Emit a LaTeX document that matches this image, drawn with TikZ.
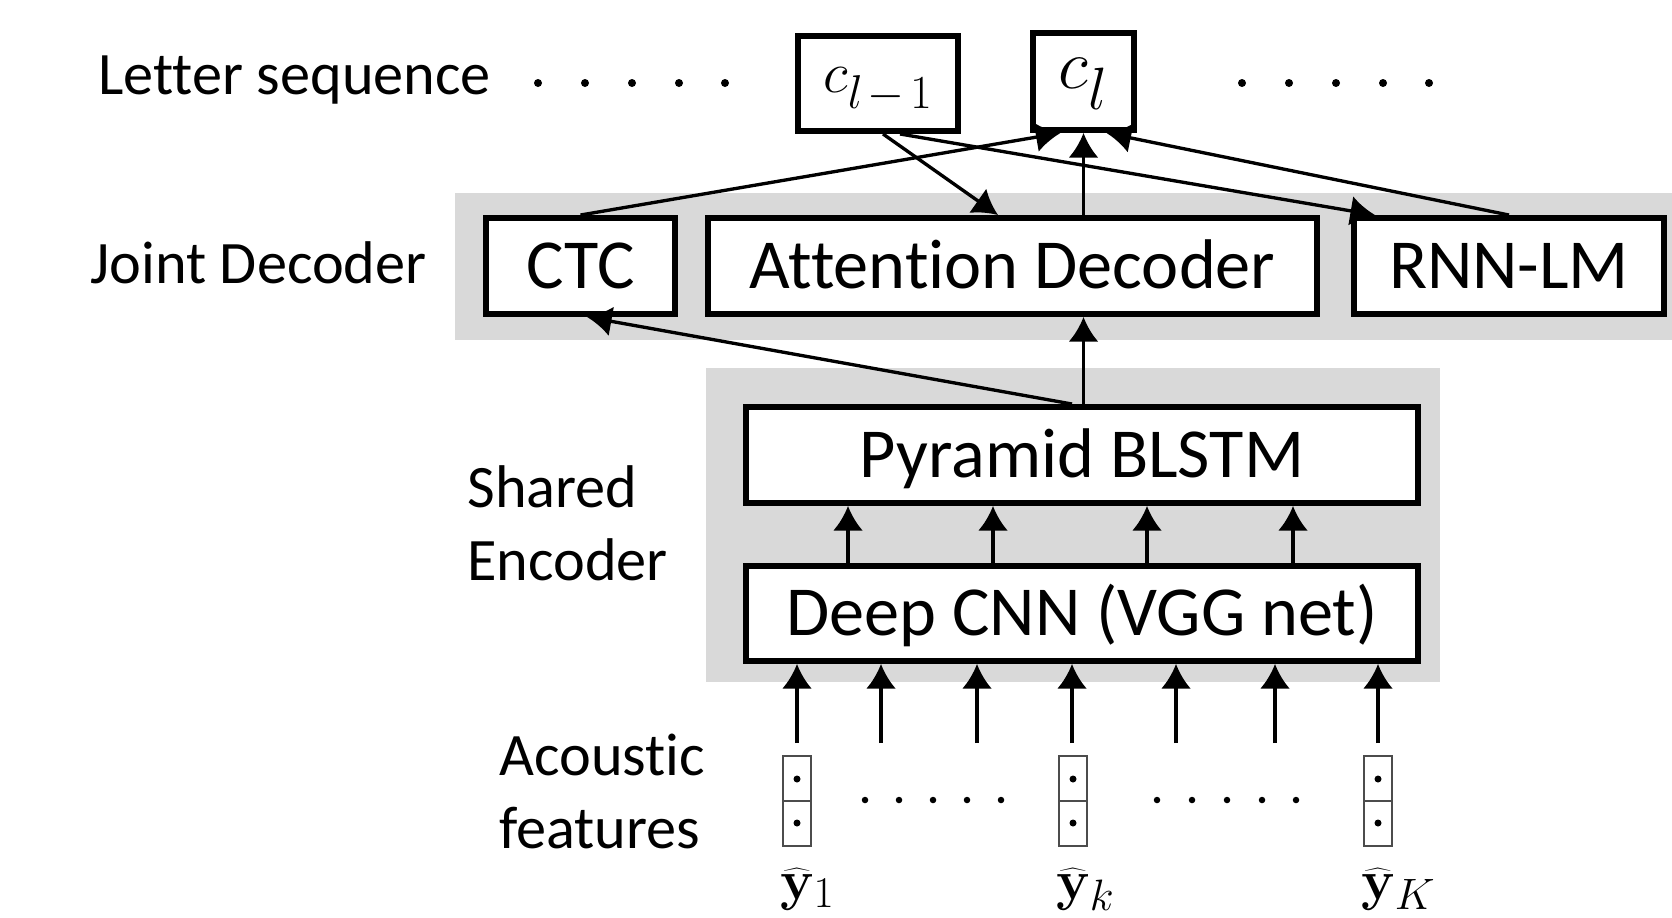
\RequirePackage{fix-cm}
\documentclass[tikz,border=0pt]{standalone}
\usepackage[no-math]{fontspec}
\setmainfont{Carlito}[Ligatures={NoCommon,NoContextual}]
\usetikzlibrary{arrows.meta}
\DeclareMathSizes{33}{33}{27}{20}
\DeclareMathSizes{40}{40}{34}{25}
\DeclareMathSizes{32}{32}{25}{19}
\definecolor{panel}{HTML}{D9D9D9}
\begin{document}
\begin{tikzpicture}[x=0.02cm,y=-0.02cm,
  box/.style={draw,line width=3.4pt,fill=white,inner sep=0pt,text height=25.5pt,text depth=0pt,font=\fontsize{40}{44}\selectfont},
  lbl/.style={anchor=base west,inner sep=0pt,font=\fontsize{34.3}{40}\selectfont},
  arr/.style={line width=1.9pt,-{Latex[length=14pt,width=17pt]}},
  vec/.style={draw=black!70,line width=0.9pt,minimum width=0.56cm,minimum height=1.8cm,inner sep=0pt},
  ylab/.style={anchor=base west,inner sep=0pt,font=\fontsize{32}{32}\selectfont},
]
\useasboundingbox (0,0) rectangle (1672,917);
% panels
\fill[panel] (455,193) rectangle (1672,340);
\fill[panel] (706,368) rectangle (1440,682);
% labels
\node[lbl] (lseq) at (98,94) {Letter sequence};
\node[lbl] (ljd) at (90,283) {Joint Decoder};
\node[lbl] (lse1) at (467,507) {Shared};
\node[lbl] (lse2) at (467,580) {Encoder};
\node[lbl] (laf1) at (499,775) {Acoustic};
\node[lbl] (laf2) at (499,848) {features};
% dots
\foreach \x in {538,585,632,679,725} \fill (\x,83) circle[radius=0.08cm];
\foreach \x in {1242,1289,1336,1383,1429} \fill (\x,83) circle[radius=0.08cm];
\foreach \x in {865,899,933,967,1001} \fill (\x,800) circle[radius=0.065cm];
\foreach \x in {1157,1192,1227,1262,1296} \fill (\x,800) circle[radius=0.065cm];
% letter boxes
\node[box,font=\fontsize{33}{35}\selectfont,text height=10.8pt,minimum width=3.2cm,minimum height=1.9cm] (clm1) at (878,83.5)
  {$c_{\raisebox{-4pt}{$\scriptstyle l\mskip2mu-\mskip2mu1$}}$};
\node[box,font=\fontsize{40}{42}\selectfont,text height=7.4pt,minimum width=2.02cm,minimum height=1.94cm] (cl) at (1083.5,81.5)
  {$c_{\raisebox{-6pt}{$\scriptstyle l$}}$};
% decoder boxes
\node[box,minimum width=3.78cm,minimum height=1.92cm] (ctc) at (580.5,266) {CTC};
\node[box,minimum width=12.18cm,minimum height=1.92cm] (att) at (1012.5,266) {Attention Decoder};
\node[box,minimum width=6.2cm,minimum height=1.92cm] (rnn) at (1509,266) {RNN-LM};
% encoder boxes
\node[box,minimum width=13.44cm,minimum height=1.92cm] (blstm) at (1082,455) {Pyramid BLSTM};
\node[box,minimum width=13.44cm,minimum height=1.9cm] (cnn) at (1082,613.5) {Deep CNN (VGG net)};
% feature vectors
\foreach \n/\x in {v1/797,vk/1073,vK/1378}{
  \node[vec] (\n) at (\x,801) {};
  \draw[black!70,line width=0.9pt] (\n.west) -- (\n.east);
  \fill ([yshift=0.44cm]\n.center) circle[radius=0.07cm];
  \fill ([yshift=-0.44cm]\n.center) circle[radius=0.07cm];
}
\node[ylab] (y1) at (780,899) {$\widehat{\mathbf{y}}_1$};
\node[ylab] (yk) at (1056,899) {$\widehat{\mathbf{y}}_k$};
\node[ylab] (yK) at (1361,899) {$\widehat{\mathbf{y}}_K$};
% input arrows
\foreach \x in {797,881,977,1072,1176,1275,1378}{
  \coordinate (in\x) at (\x,743);
  \draw[arr] (in\x) -- (in\x |- cnn.south);
}
% encoder internal arrows
\foreach \x in {848,993,1147,1293}
  \draw[arr] (\x,0 |- cnn.north) -- (\x,0 |- blstm.south);
% encoder to decoders
\draw[arr] (cl.south |- blstm.north) -- (cl.south |- att.south);
\draw[arr] ([xshift=-0.2cm]blstm.north) -- ([xshift=0.13cm]ctc.south);
% decoders to letters
\draw[arr] (ctc.north) -- ([xshift=-0.46cm]cl.south);
\draw[arr] (att.north -| cl.south) -- (cl.south);
\draw[arr] (rnn.north) -- ([xshift=0.46cm]cl.south);
\draw[arr] ([xshift=0.1cm]clm1.south) -- ([xshift=-0.29cm]att.north);
\draw[arr] ([xshift=0.44cm]clm1.south) -- ([xshift=0.48cm]rnn.north west);
\end{tikzpicture}
\end{document}
